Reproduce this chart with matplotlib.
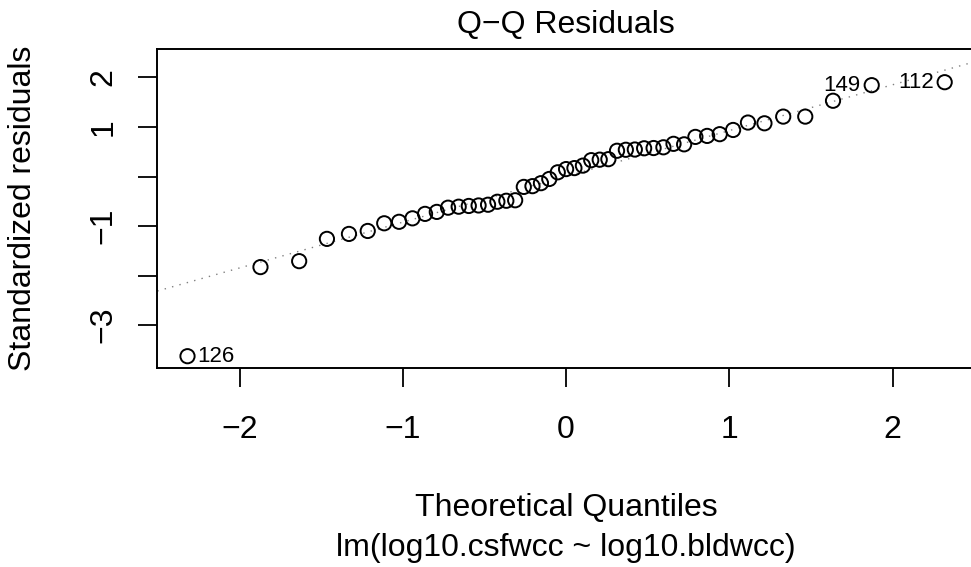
import matplotlib
matplotlib.use("Agg")
import matplotlib.pyplot as plt

plt.rcParams['font.family'] = ['Liberation Sans', 'DejaVu Sans']

# theoretical quantiles (n = 49)
theo_q = [-2.319, -1.872, -1.635, -1.465, -1.330, -1.215, -1.114, -1.023, -0.941,
          -0.864, -0.792, -0.723, -0.658, -0.596, -0.536, -0.478, -0.421, -0.366,
          -0.312, -0.259, -0.206, -0.154, -0.103, -0.051, 0.000, 0.051, 0.103,
          0.154, 0.206, 0.259, 0.312, 0.366, 0.421, 0.478, 0.536, 0.596, 0.658,
          0.723, 0.792, 0.864, 0.941, 1.023, 1.114, 1.215, 1.330, 1.465, 1.635,
          1.872, 2.319]
# standardized residuals (sorted)
std_resid = [-3.63, -1.83, -1.71, -1.26, -1.16, -1.10, -0.945, -0.915, -0.845,
             -0.755, -0.715, -0.63, -0.61, -0.595, -0.585, -0.57, -0.51, -0.49,
             -0.48, -0.21, -0.195, -0.135, -0.05, 0.085, 0.15, 0.17, 0.22,
             0.33, 0.34, 0.35, 0.52, 0.54, 0.545, 0.57, 0.575, 0.59, 0.66,
             0.65, 0.80, 0.82, 0.855, 0.94, 1.09, 1.075, 1.21, 1.21, 1.53,
             1.845, 1.905]

# labelled extreme points: (index into the lists, label, side)
id_points = [(0, '126', 'right'), (47, '149', 'left'), (48, '112', 'left')]

# reference line (qqline)
line_slope = 0.925
line_intercept = 0.003

x_ticks = [-2, -1, 0, 1, 2]
x_ticklabels = ['\u22122', '\u22121', '0', '1', '2']
y_ticks = [-3, -2, -1, 0, 1, 2]
y_ticklabels = ['\u22123', '', '\u22121', '', '1', '2']

fs = 23

fig = plt.figure(figsize=(9.71, 5.67), dpi=100)
ax = fig.add_axes([0.162, 0.351, 0.842, 0.562])

xlim = (-2.504, 2.504)
ax.plot(xlim, [line_intercept + line_slope * v for v in xlim], color='gray',
        lw=1.0, linestyle=(0, (1, 4.5)), zorder=1)
ax.scatter(theo_q, std_resid, s=105, facecolors='none', edgecolors='black',
           linewidths=1.4, zorder=2)

for i, lab, side in id_points:
    off = 7 if side == 'right' else -8
    ax.annotate(lab, (theo_q[i], std_resid[i]), xytext=(off, 0),
                textcoords='offset points', ha='left' if side == 'right' else 'right',
                va='center', fontsize=16)

ax.set_xlim(xlim)
ax.set_ylim(-3.868, 2.569)
ax.set_xticks(x_ticks)
ax.set_xticklabels(x_ticklabels)
ax.set_yticks(y_ticks)
ax.set_yticklabels(y_ticklabels, rotation=90, va='center')
ax.tick_params(axis='both', labelsize=fs, length=14, width=1.3, colors='black')
ax.tick_params(axis='x', pad=20)
ax.tick_params(axis='y', pad=14)
for sp in ax.spines.values():
    sp.set_linewidth(1.4)

fig.text(566 / 971, 1 - 25 / 567, 'Q\u2212Q Residuals', ha='center', va='center', fontsize=fs)
fig.text(566 / 971, 1 - 508 / 567, 'Theoretical Quantiles', ha='center', va='center', fontsize=fs)
fig.text(566 / 971, 1 - 548 / 567, 'lm(log10.csfwcc ~ log10.bldwcc)', ha='center', va='center', fontsize=fs)
fig.text(23 / 971, 1 - 208 / 567, 'Standardized residuals', ha='center', va='center',
         rotation=90, fontsize=fs)

fig.savefig('out.png', dpi=100)
